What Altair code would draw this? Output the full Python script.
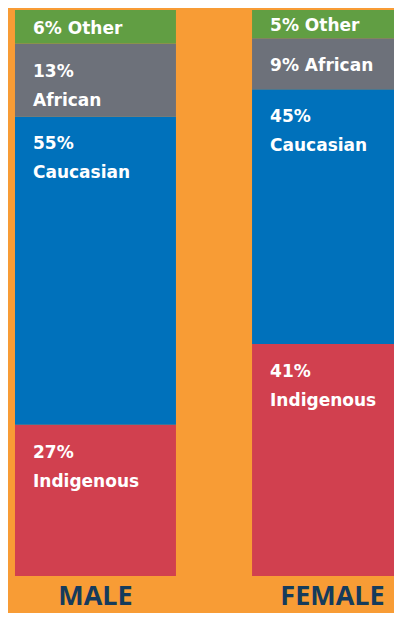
import altair as alt
import pandas as pd

genders = ["MALE", "FEMALE"]
groups = ["Indigenous", "Caucasian", "African", "Other"]
male_values = [27, 55, 13, 6]
female_values = [41, 45, 9, 5]
group_colors = ["#D1404F", "#0071BB", "#6D717A", "#619E43"]
single_line = {"MALE": ["Other"], "FEMALE": ["Other", "African"]}

rows = []
for gender, vals in zip(genders, [male_values, female_values]):
    for rank, (g, v) in enumerate(zip(groups, vals)):
        one = g in single_line[gender]
        rows.append({
            "gender": gender,
            "group": g,
            "value": v,
            "rank": rank,
            "lines": 1 if one else 2,
            "label": f"{v}% {g}" if one else f"{v}%\n{g}",
        })
df = pd.DataFrame(rows)

LABEL_FONT = "DejaVu Sans"
AXIS_FONT = "Open Sans"

base = alt.Chart(df).transform_stack(
    stack="value",
    groupby=["gender"],
    as_=["y0", "y1"],
    offset="normalize",
    sort=[alt.SortField("rank", order="ascending")],
).transform_calculate(ymid="(datum.y0 + datum.y1) / 2")

xenc = alt.X(
    "gender:N",
    sort=genders,
    scale=alt.Scale(range=[0, 412], paddingInner=0.321, paddingOuter=0.0295),
    axis=alt.Axis(
        title=None, domain=False, ticks=False, grid=False, labelAngle=0,
        labelFont=AXIS_FONT, labelFontWeight="bold", labelFontSize=27,
        labelColor="#153B5C", labelPadding=7,
    ),
)

bars = base.mark_bar(clip=True).encode(
    x=xenc,
    y=alt.Y("y0:Q", scale=alt.Scale(domain=[0, 1]), axis=None),
    y2="y1:Q",
    color=alt.Color("group:N", scale=alt.Scale(domain=groups, range=group_colors), legend=None),
)

text_style = dict(align="left", dx=18, fontSize=17, fontWeight="bold",
                  color="white", font=LABEL_FONT, lineBreak="\n", lineHeight=29)

two_lines = base.transform_filter("datum.lines == 2").mark_text(
    baseline="alphabetic", dy=33, **text_style
).encode(
    x=alt.X("gender:N", sort=genders, bandPosition=0),
    y=alt.Y("y1:Q"),
    text="label:N",
)

one_line = base.transform_filter("datum.lines == 1").mark_text(
    baseline="middle", dy=2, **text_style
).encode(
    x=alt.X("gender:N", sort=genders, bandPosition=0),
    y=alt.Y("ymid:Q"),
    text="label:N",
)

chart = alt.layer(bars, two_lines, one_line).properties(
    width=386,
    height=566,
    padding={"left": 0, "top": 2, "right": 0, "bottom": 37},
    autosize=alt.AutoSizeParams(type="none"),
    background="#F89C35",
).configure_view(stroke=None)

chart.save("out.html", embed_options={"renderer": "svg", "actions": False})
